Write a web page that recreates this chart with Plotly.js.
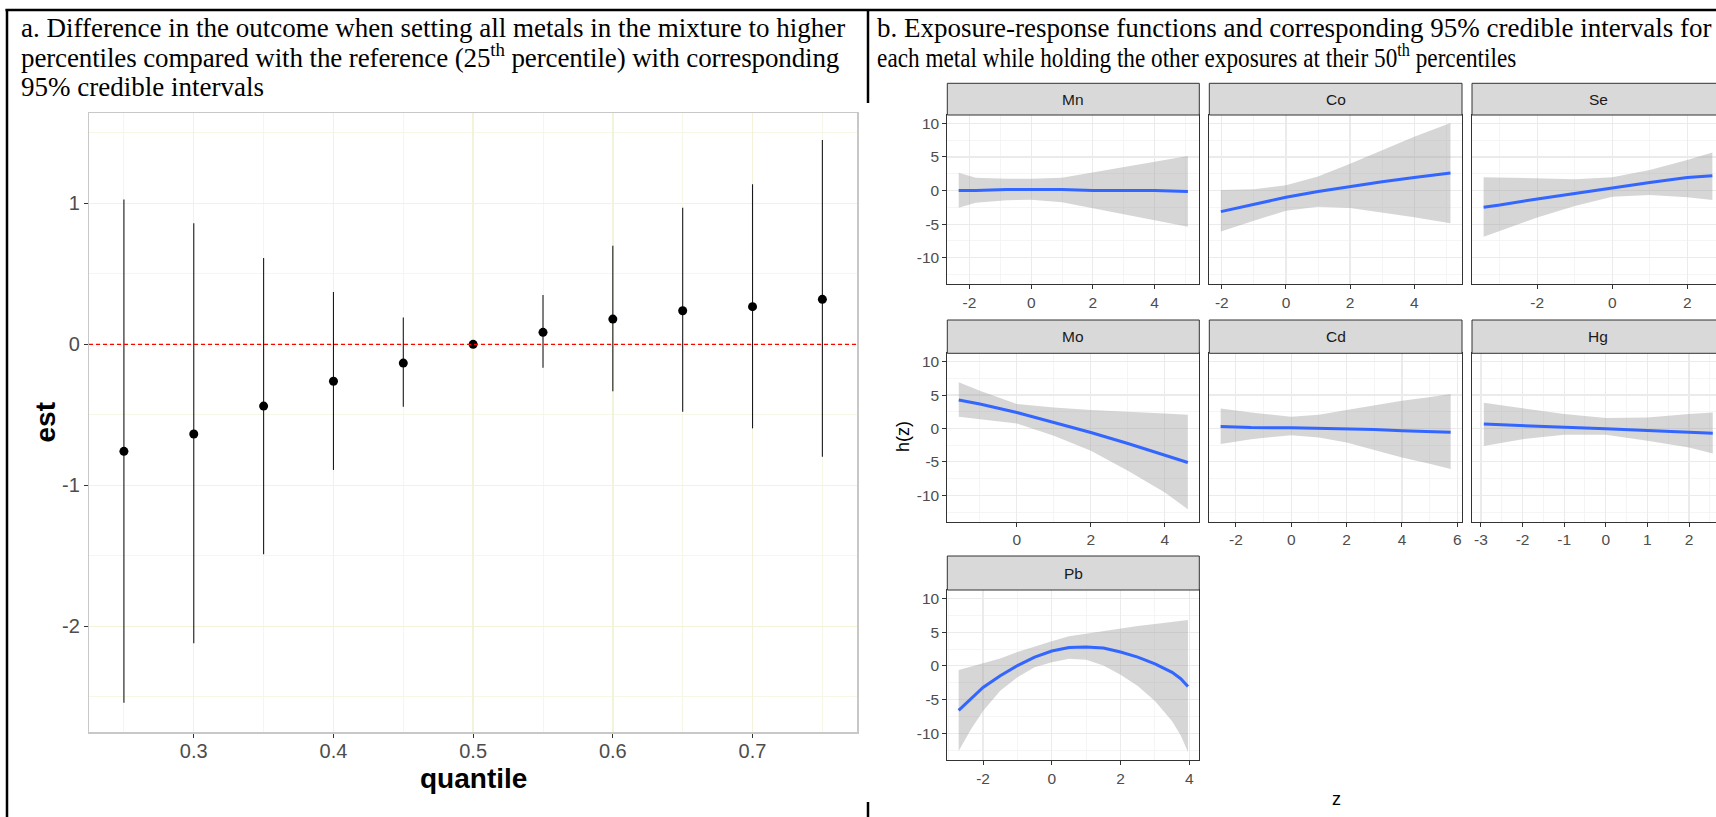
<!DOCTYPE html>
<html><head><meta charset="utf-8">
<script src="https://cdn.plot.ly/plotly-3.0.1.min.js"></script>
<style>html,body{margin:0;padding:0;overflow:hidden;background:#fff;width:1716px;height:817px}</style>
</head><body><div id="chart" style="width:1730px;height:817px"></div>
<script>
// ---------- Panel a data ----------
const quantile = [0.25, 0.30, 0.35, 0.40, 0.45, 0.50, 0.55, 0.60, 0.65, 0.70, 0.75];
const est      = [-0.759, -0.636, -0.438, -0.262, -0.133, 0, 0.085, 0.179, 0.238, 0.267, 0.319];
const lower    = [-2.542, -2.121, -1.489, -0.891, -0.443, 0, -0.166, -0.333, -0.478, -0.596, -0.797];
const upper    = [1.028, 0.858, 0.612, 0.371, 0.191, 0, 0.350, 0.699, 0.969, 1.135, 1.449];
const quantileTicks = [0.3, 0.4, 0.5, 0.6, 0.7];
const estTicks = [-2, -1, 0, 1];

// ---------- Panel b data ----------
const metals = ['Mn', 'Co', 'Se', 'Mo', 'Cd', 'Hg', 'Pb'];
const z_Mn  = [-2.35, -1.8, -0.8, 0, 1.0, 2, 3, 4, 5.08];
const h_Mn  = [0, 0, 0.15, 0.15, 0.15, 0, 0, 0, -0.15];
const lo_Mn = [-2.54, -1.8, -1.45, -1.35, -1.75, -2.6, -3.5, -4.4, -5.37];
const hi_Mn = [2.64, 1.9, 1.75, 1.75, 1.9, 2.7, 3.5, 4.3, 5.13];

const z_Co  = [-2.03, -1, 0, 1, 2, 3, 4, 5.13];
const h_Co  = [-3.13, -2.06, -1.0, -0.15, 0.6, 1.3, 1.94, 2.6];
const lo_Co = [-6.1, -4.5, -3.0, -2.4, -2.6, -3.3, -3.97, -4.87];
const hi_Co = [0.1, 0.2, 0.8, 2.1, 4.0, 6.0, 8.0, 10.06];

const z_Se  = [-3.43, -3, -2, -1, 0, 1, 2, 2.67];
const h_Se  = [-2.48, -2.15, -1.24, -0.4, 0.45, 1.2, 1.94, 2.19];
const lo_Se = [-6.87, -6.0, -4.0, -2.3, -0.9, -0.65, -1.0, -1.39];
const hi_Se = [2.0, 1.95, 1.85, 1.7, 2.0, 3.05, 4.55, 5.67];

const z_Mo  = [-1.57, -1, 0, 1, 2, 3, 4, 4.62];
const h_Mo  = [4.25, 3.65, 2.4, 0.9, -0.6, -2.25, -3.94, -5.09];
const lo_Mo = [1.75, 1.4, 0.75, -1.1, -3.34, -6.33, -9.58, -12.07];
const hi_Mo = [6.9, 5.64, 3.65, 3.14, 2.75, 2.55, 2.25, 2.05];

const z_Cd  = [-2.55, -1.45, 0, 1, 2, 3, 4, 5.04, 5.76];
const h_Cd  = [0.3, 0.15, 0.1, 0.05, 0.0, -0.15, -0.35, -0.5, -0.55];
const lo_Cd = [-2.34, -1.6, -1.0, -1.34, -2.1, -3.2, -4.34, -5.3, -6.08];
const hi_Cd = [3.0, 2.4, 1.75, 2.05, 2.75, 3.45, 4.15, 4.7, 5.15];

const z_Hg  = [-2.93, -2, -1, 0, 1, 2, 2.57];
const h_Hg  = [0.66, 0.4, 0.2, -0.05, -0.3, -0.6, -0.7];
const lo_Hg = [-2.64, -1.6, -0.94, -0.94, -1.84, -2.84, -3.74];
const hi_Hg = [3.85, 3.05, 2.15, 1.55, 1.65, 2.15, 2.4];

const z_Pb  = [-2.71, -2.35, -2, -1.5, -1, -0.5, 0, 0.5, 1, 1.5, 2, 2.5, 3, 3.5, 3.75, 3.96];
const h_Pb  = [-6.58, -4.85, -3.2, -1.46, 0.05, 1.3, 2.2, 2.71, 2.8, 2.65, 2.05, 1.3, 0.3, -0.96, -1.9, -3.07];
const lo_Pb = [-12.6, -9.4, -6.7, -3.7, -1.7, -0.2, 0.55, 1.05, 0.9, 0.05, -1.3, -2.97, -5.2, -8.2, -10.3, -12.75];
const hi_Pb = [-0.6, -0.1, 0.35, 1.1, 2.05, 2.9, 3.66, 4.4, 4.8, 5.2, 5.57, 5.9, 6.2, 6.5, 6.65, 6.8];

const hTicks = [-10, -5, 0, 5, 10];
const zTicks = {
  Mn: [-2, 0, 2, 4], Co: [-2, 0, 2, 4], Se: [-2, 0, 2],
  Mo: [0, 2, 4], Cd: [-2, 0, 2, 4, 6], Hg: [-3, -2, -1, 0, 1, 2], Pb: [-2, 0, 2, 4]
};

const series = {
  Mn: [z_Mn, h_Mn, lo_Mn, hi_Mn], Co: [z_Co, h_Co, lo_Co, hi_Co], Se: [z_Se, h_Se, lo_Se, hi_Se],
  Mo: [z_Mo, h_Mo, lo_Mo, hi_Mo], Cd: [z_Cd, h_Cd, lo_Cd, hi_Cd], Hg: [z_Hg, h_Hg, lo_Hg, hi_Hg],
  Pb: [z_Pb, h_Pb, lo_Pb, hi_Pb]
};

// ---------- Layout geometry (pixels) ----------
const W = 1730, H = 817;
const px = v => v / W;
const py = v => 1 - v / H;
const SANS = 'Liberation Sans, Arial, sans-serif';
const SERIF = 'Liberation Serif, Times New Roman, serif';

const cols = [[947.3, 1199.3], [1209.3, 1462], [1472, 1724]];
const rows = [
  {strip: [83.3, 115], panel: [115, 284.3]},
  {strip: [320, 353.3], panel: [353.3, 521.7]},
  {strip: [556, 590], panel: [590, 760]}
];
const xRanges = {
  Mn: [-2.72, 5.45], Co: [-2.39, 5.49], Se: [-3.74, 2.98],
  Mo: [-1.88, 4.93], Cd: [-2.96, 6.17], Hg: [-3.214, 2.84], Pb: [-3.04, 4.29]
};
const xMinor = {Mn: 1, Co: 1, Se: 1, Mo: 1, Cd: 1, Hg: 0.5, Pb: 1};
const yRange = [-13.95, 11.25];

const traces = [];
const layout = {
  width: W, height: H,
  margin: {l: 0, r: 0, t: 0, b: 0, pad: 0},
  paper_bgcolor: '#ffffff', plot_bgcolor: '#ffffff',
  showlegend: false, hovermode: false,
  shapes: [], annotations: []
};

// ---------- Panel a ----------
traces.push({
  type: 'scatter', mode: 'markers', x: quantile, y: est, xaxis: 'x', yaxis: 'y',
  marker: {color: '#000000', size: 9},
  error_y: {
    type: 'data', symmetric: false,
    array: upper.map((u, i) => u - est[i]),
    arrayminus: lower.map((l, i) => est[i] - l),
    color: '#1a1a1a', thickness: 1.1, width: 0
  },
  cliponaxis: false
});

layout.xaxis = {
  domain: [px(89), px(857.3)], range: [0.225, 0.775], anchor: 'y',
  tickmode: 'array', tickvals: quantileTicks, ticktext: quantileTicks.map(v => v.toFixed(1)),
  ticks: 'outside', ticklen: 4, tickcolor: '#333333', tickwidth: 1, ticklabelstandoff: -4,
  tickfont: {family: SANS, size: 20, color: '#4d4d4d'},
  showgrid: true, gridcolor: '#f3f3d9', gridwidth: 1.4,
  minor: {tickmode: 'linear', tick0: 0.25, dtick: 0.1, showgrid: true, gridcolor: '#f6f6e4', gridwidth: 0.9, ticks: ''},
  showline: true, mirror: true, linecolor: '#c8c8c8', linewidth: 1.2, zeroline: false
};
layout.yaxis = {
  domain: [py(732.3), py(112.7)], range: [-2.752, 1.643], anchor: 'x',
  tickmode: 'array', tickvals: estTicks, ticktext: estTicks.map(String),
  ticks: 'outside', ticklen: 4, tickcolor: '#333333', tickwidth: 1,
  tickfont: {family: SANS, size: 20, color: '#4d4d4d'},
  showgrid: true, gridcolor: '#f3f3d9', gridwidth: 1.4,
  minor: {tickmode: 'linear', tick0: 0.5, dtick: 1, showgrid: true, gridcolor: '#f6f6e4', gridwidth: 0.9, ticks: ''},
  showline: true, mirror: true, linecolor: '#c8c8c8', linewidth: 1.2, zeroline: false
};
layout.shapes.push({
  type: 'line', xref: 'x domain', yref: 'y', x0: 0, x1: 1, y0: 0, y1: 0,
  line: {color: '#ff0000', width: 1.3, dash: '4px,3px'}, layer: 'above'
});
layout.annotations.push(
  {text: '<b>est</b>', xref: 'paper', yref: 'paper', x: px(45), y: py(422.5), textangle: -90,
   showarrow: false, xanchor: 'center', yanchor: 'middle', font: {family: SANS, size: 28, color: '#000'}},
  {text: '<b>quantile</b>', xref: 'paper', yref: 'paper', x: px(473), y: py(778), 
   showarrow: false, xanchor: 'center', yanchor: 'middle', font: {family: SANS, size: 28, color: '#000'}}
);

// ---------- Panel b facets ----------
metals.forEach((m, i) => {
  const n = i + 2;
  const c = cols[i % 3], r = rows[Math.floor(i / 3)];
  const [z, h, lo, hi] = series[m];
  const xa = 'x' + n, ya = 'y' + n;
  traces.push({
    type: 'scatter', mode: 'lines', xaxis: xa, yaxis: ya,
    x: z.concat(z.slice().reverse()), y: hi.concat(lo.slice().reverse()),
    fill: 'toself', fillcolor: 'rgba(153,153,153,0.4)', line: {width: 0, color: 'rgba(0,0,0,0)'}
  });
  traces.push({
    type: 'scatter', mode: 'lines', xaxis: xa, yaxis: ya, x: z, y: h,
    line: {color: '#3366FF', width: 3}
  });
  const ticks = zTicks[m];
  layout['xaxis' + n] = {
    domain: [px(c[0]), px(c[1])], range: xRanges[m], anchor: ya,
    tickmode: 'array', tickvals: ticks, ticktext: ticks.map(String),
    ticks: 'outside', ticklen: 4, tickcolor: '#333333', tickwidth: 1,
    tickfont: {family: SANS, size: 15.5, color: '#4d4d4d'},
    showgrid: true, gridcolor: '#ebebeb', gridwidth: 1.2,
    minor: {tickmode: 'linear', tick0: 0, dtick: xMinor[m], showgrid: true, gridcolor: '#f2f2f2', gridwidth: 0.8, ticks: ''},
    showline: true, mirror: true, linecolor: '#333333', linewidth: 1, zeroline: false
  };
  const first = (i % 3 === 0);
  layout['yaxis' + n] = {
    domain: [py(r.panel[1]), py(r.panel[0])], range: yRange, anchor: xa,
    tickmode: 'array', tickvals: hTicks, ticktext: hTicks.map(String),
    ticks: first ? 'outside' : '', ticklen: 4, tickcolor: '#333333', tickwidth: 1,
    showticklabels: first,
    tickfont: {family: SANS, size: 15.5, color: '#4d4d4d'},
    showgrid: true, gridcolor: '#ebebeb', gridwidth: 1.2,
    minor: {tickmode: 'linear', tick0: 2.5, dtick: 5, showgrid: true, gridcolor: '#f2f2f2', gridwidth: 0.8, ticks: ''},
    showline: true, mirror: true, linecolor: '#333333', linewidth: 1, zeroline: false
  };
  layout.shapes.push({
    type: 'rect', xref: 'paper', yref: 'paper',
    x0: px(c[0]), x1: px(c[1]), y0: py(r.strip[1]), y1: py(r.strip[0]),
    fillcolor: '#d9d9d9', line: {color: '#333333', width: 1}, layer: 'above'
  });
  layout.annotations.push({
    text: m, xref: 'paper', yref: 'paper', x: px((c[0] + c[1]) / 2), y: py((r.strip[0] + r.strip[1]) / 2),
    showarrow: false, xanchor: 'center', yanchor: 'middle', font: {family: SANS, size: 15.5, color: '#1a1a1a'}
  });
});

layout.annotations.push(
  {text: 'h(z)', xref: 'paper', yref: 'paper', x: px(903), y: py(437), textangle: -90,
   showarrow: false, xanchor: 'center', yanchor: 'middle', font: {family: SANS, size: 18, color: '#000'}},
  {text: 'z', xref: 'paper', yref: 'paper', x: px(1336), y: py(799),
   showarrow: false, xanchor: 'center', yanchor: 'middle', font: {family: SANS, size: 18, color: '#000'}}
);

// ---------- Cell captions (table text) ----------
const captionA = [
  'a. Difference in the outcome when setting all metals in the mixture to higher',
  '<span style="letter-spacing:-0.12px">percentiles compared with the reference (25<sup>th</sup> percentile) with corresponding</span>',
  '95% credible intervals'
];
const captionB = [
  'b. Exposure-response functions and corresponding 95% credible intervals for',
  'each metal while holding the other exposures at their 50<sup>th</sup> percentiles'
];
const baselines = [38, 68, 97];
captionA.forEach((t, k) => layout.annotations.push({
  text: t, xref: 'paper', yref: 'paper', x: px(20), y: py(baselines[k] + 6), borderpad: 0,
  showarrow: false, xanchor: 'left', yanchor: 'bottom', font: {family: SERIF, size: 27, color: '#000'}
}));
captionB.forEach((t, k) => layout.annotations.push({
  text: t, xref: 'paper', yref: 'paper', x: px(876), y: py(baselines[k] + 6), borderpad: 0,
  showarrow: false, xanchor: 'left', yanchor: 'bottom', font: {family: SERIF, size: 27, color: '#000'}
}));

// ---------- Table borders ----------
const border = {color: '#000000', width: 2.5};
layout.shapes.push(
  {type: 'line', xref: 'paper', yref: 'paper', x0: px(5.5), x1: 1, y0: py(10), y1: py(10), line: border, layer: 'above'},
  {type: 'line', xref: 'paper', yref: 'paper', x0: px(7), x1: px(7), y0: py(9), y1: 0, line: border, layer: 'above'},
  {type: 'line', xref: 'paper', yref: 'paper', x0: px(868), x1: px(868), y0: py(9), y1: py(103), line: border, layer: 'above'},
  {type: 'line', xref: 'paper', yref: 'paper', x0: px(868), x1: px(868), y0: py(802), y1: 0, line: border, layer: 'above'}
);

Plotly.newPlot('chart', traces, layout, {staticPlot: true, displayModeBar: false}).then(gd => {
  // the second caption line of cell b is horizontally condensed in the source document
  gd.querySelectorAll('text.annotation-text').forEach(t => {
    if (t.textContent.indexOf('each metal') === 0) {
      t.style.transformBox = 'fill-box';
      t.style.transformOrigin = '0% 50%';
      t.style.transform = 'scaleX(0.86)';
    }
  });
});
</script>
</body></html>
